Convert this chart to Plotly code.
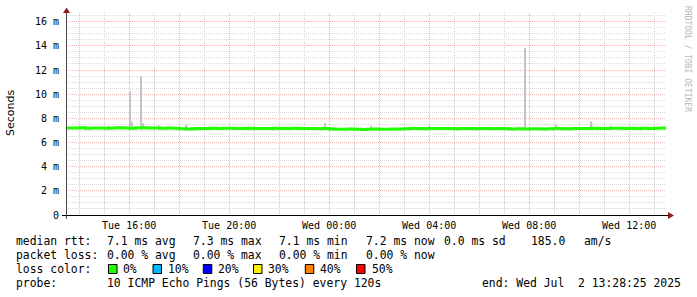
import pandas as pd
import plotly.graph_objects as go

# ---------------- data ----------------
t_start = "2025-07-01 13:28:25"
t_end = "2025-07-02 13:28:25"
sample_start = "2025-07-01 13:30:00"

median_ms = [
    7.21, 7.20, 7.22, 7.19, 7.21, 7.20, 7.18, 7.20, 7.22, 7.21, 7.19, 7.23, 7.22, 7.20, 7.21, 7.19, 7.20, 7.18,
    7.13, 7.12, 7.14, 7.15,
    7.17, 7.18, 7.16, 7.18, 7.19, 7.17, 7.16, 7.18, 7.17, 7.15, 7.17, 7.18, 7.16, 7.17, 7.18, 7.16,
    7.15, 7.16, 7.14, 7.15, 7.12,
    7.10, 7.09, 7.11, 7.10, 7.08, 7.10, 7.11, 7.09, 7.10, 7.12, 7.11,
    7.14, 7.15, 7.16, 7.14, 7.15, 7.17, 7.16, 7.15, 7.14, 7.16, 7.15, 7.13, 7.15, 7.16, 7.14, 7.15,
    7.13, 7.12, 7.14, 7.11, 7.13, 7.14, 7.12, 7.13, 7.15, 7.14, 7.13, 7.15,
    7.17, 7.16, 7.18, 7.17, 7.16, 7.18, 7.19, 7.17, 7.18, 7.16, 7.18, 7.17, 7.19, 7.20,
]

smoke_times = [
    "2025-07-01 15:10", "2025-07-01 16:02", "2025-07-01 16:07", "2025-07-01 16:28",
    "2025-07-01 16:33", "2025-07-01 17:11", "2025-07-01 18:18", "2025-07-01 23:50",
    "2025-07-02 01:40", "2025-07-02 03:59", "2025-07-02 07:50", "2025-07-02 09:06",
    "2025-07-02 10:30", "2025-07-02 11:16",
]
smoke_top_ms = [7.38, 10.22, 7.74, 11.47, 7.60, 7.40, 7.46, 7.62, 7.38, 7.38, 13.82, 7.46, 7.74, 7.38]
smoke_base_ms = 7.05

x_tickvals = ["2025-07-01 14:00", "2025-07-01 16:00", "2025-07-01 18:00", "2025-07-01 20:00",
              "2025-07-01 22:00", "2025-07-02 00:00", "2025-07-02 02:00", "2025-07-02 04:00",
              "2025-07-02 06:00", "2025-07-02 08:00", "2025-07-02 10:00", "2025-07-02 12:00"]
x_ticktext = ["", "Tue 16:00", "", "Tue 20:00", "", "Wed 00:00", "", "Wed 04:00", "", "Wed 08:00", "", "Wed 12:00"]
y_tickvals = [0, 2, 4, 6, 8, 10, 12, 14, 16]
y_ticktext = ["0", "2 m", "4 m", "6 m", "8 m", "10 m", "12 m", "14 m", "16 m"]

legend_rtt = ["median rtt:", "7.1 ms avg", "7.3 ms max", "7.1 ms min", "7.2 ms now", "0.0 ms sd", "185.0", "am/s"]
legend_loss = ["packet loss:", "0.00 % avg", "0.00 % max", "0.00 % min", "0.00 % now"]
loss_labels = ["0%", "10%", "20%", "30%", "40%", "50%"]
loss_colors = ["#22ff00", "#00b8ff", "#0000ff", "#ffee00", "#ff8000", "#ff0000"]
probe_text = ["probe:", "10 ICMP Echo Pings (56 Bytes) every 120s"]
end_text = "end: Wed Jul  2 13:28:25 2025"

# ---------------- geometry ----------------
W, H = 697, 297
L, R, T, B = 66, 666, 13, 215
PW, PH = R - L, B - T


def px(x):
    return (x - L) / PW


def py(y):
    return (B - y) / PH


times = list(pd.date_range(sample_start, periods=len(median_ms), freq="15min"))
line_x = times + [pd.Timestamp(t_end)]
line_y = median_ms + [median_ms[-1]]

fig = go.Figure()
fig.add_trace(go.Bar(
    x=smoke_times, y=[v - smoke_base_ms for v in smoke_top_ms], base=smoke_base_ms,
    width=200000, marker=dict(color="#c4c4c4", line=dict(width=0)), hoverinfo="skip",
))
fig.add_trace(go.Scatter(
    x=line_x, y=line_y, mode="lines", line=dict(color="#22ff00", width=3, shape="hv"),
))

mono = "DejaVu Sans Mono"
minor_grid = "#d0d0d0"
major_grid = "#f0b4b4"
dash = "1px,1px"

fig.update_layout(
    width=W, height=H, showlegend=False, barmode="overlay",
    margin=dict(l=L, r=W - R, t=T, b=H - B, pad=0),
    paper_bgcolor="white", plot_bgcolor="white",
    font=dict(family=mono, size=10, color="black"),
    xaxis=dict(
        type="date", range=[t_start, t_end], tickvals=x_tickvals, ticktext=x_ticktext,
        showgrid=True, gridcolor=major_grid, griddash=dash, gridwidth=1,
        minor=dict(dtick=3600000, tick0="2025-07-01 00:00", showgrid=True,
                   gridcolor=minor_grid, griddash=dash, gridwidth=1),
        ticks="", showline=False, zeroline=False, ticklabelstandoff=3,
        tickfont=dict(family=mono, size=10, color="black"),
    ),
    yaxis=dict(
        range=[0, 16.72], tickvals=y_tickvals, ticktext=y_ticktext,
        showgrid=True, gridcolor=major_grid, griddash=dash, gridwidth=1,
        minor=dict(dtick=0.5, tick0=0, showgrid=True, gridcolor="#dadada",
                   griddash=dash, gridwidth=1),
        ticks="", showline=False, zeroline=False, ticklabelstandoff=6,
        tickfont=dict(family=mono, size=10, color="black"),
    ),
)

shapes = []
# axes lines
shapes.append(dict(type="line", xref="paper", yref="paper", x0=px(62), x1=px(669),
                   y0=py(215.5), y1=py(215.5), line=dict(color="black", width=1)))
shapes.append(dict(type="line", xref="paper", yref="paper", x0=px(66.5), x1=px(66.5),
                   y0=py(219), y1=py(12), line=dict(color="#444444", width=1)))
# arrows
shapes.append(dict(type="path", xref="paper", yref="paper",
                   path=f"M {px(63)},{py(13)} L {px(70)},{py(13)} L {px(66.5)},{py(7.5)} Z",
                   fillcolor="#8b1f1f", line=dict(width=0)))
shapes.append(dict(type="path", xref="paper", yref="paper",
                   path=f"M {px(668)},{py(212)} L {px(668)},{py(219)} L {px(674)},{py(215.5)} Z",
                   fillcolor="#8b1f1f", line=dict(width=0)))

# loss color boxes
box_lefts = [108.5, 153, 203.3, 253.5, 305.3, 356.5]
for bx, c in zip(box_lefts, loss_colors):
    shapes.append(dict(type="rect", xref="paper", yref="paper",
                       x0=px(bx), x1=px(bx + 8.5), y0=py(273.5), y1=py(264.5),
                       fillcolor=c, line=dict(color="black", width=1)))
fig.update_layout(shapes=shapes)

ann = []
lf = dict(family=mono, size=11.4, color="black")


def text(x, y, s, anchor="left"):
    ann.append(dict(xref="paper", yref="paper", x=px(x), y=py(y), text=s.replace(" ", "&nbsp;"),
                    showarrow=False, xanchor=anchor, yanchor="middle", font=lf,
                    borderpad=0, borderwidth=0))


rtt_x = [16, 107, 193, 279, 366, 444, 531, 584]
for x, s in zip(rtt_x, legend_rtt):
    text(x, 241.5, s)
loss_x = [16, 107, 193, 279, 366]
for x, s in zip(loss_x, legend_loss):
    text(x, 255.3, s)
text(16, 269.3, "loss color:")
loss_text_x = [122.7, 167.7, 217.7, 268.3, 320, 371.7]
for x, s in zip(loss_text_x, loss_labels):
    text(x, 269.3, s)
text(16, 283.3, probe_text[0])
text(107, 283.3, probe_text[1])
text(681, 283.3, end_text, anchor="right")

# y axis title
ann.append(dict(xref="paper", yref="paper", x=px(10.5), y=py(113.5), text="Seconds",
                textangle=-90, showarrow=False, xanchor="center", yanchor="middle",
                font=dict(family="DejaVu Sans", size=11, color="black")))
# watermark
ann.append(dict(xref="paper", yref="paper", x=px(687), y=py(59), text="RRDTOOL / TOBI OETIKER",
                textangle=90, showarrow=False, xanchor="center", yanchor="middle",
                font=dict(family=mono, size=8, color="#b8b8b8")))
fig.update_layout(annotations=ann)

fig.write_html("out.html")
